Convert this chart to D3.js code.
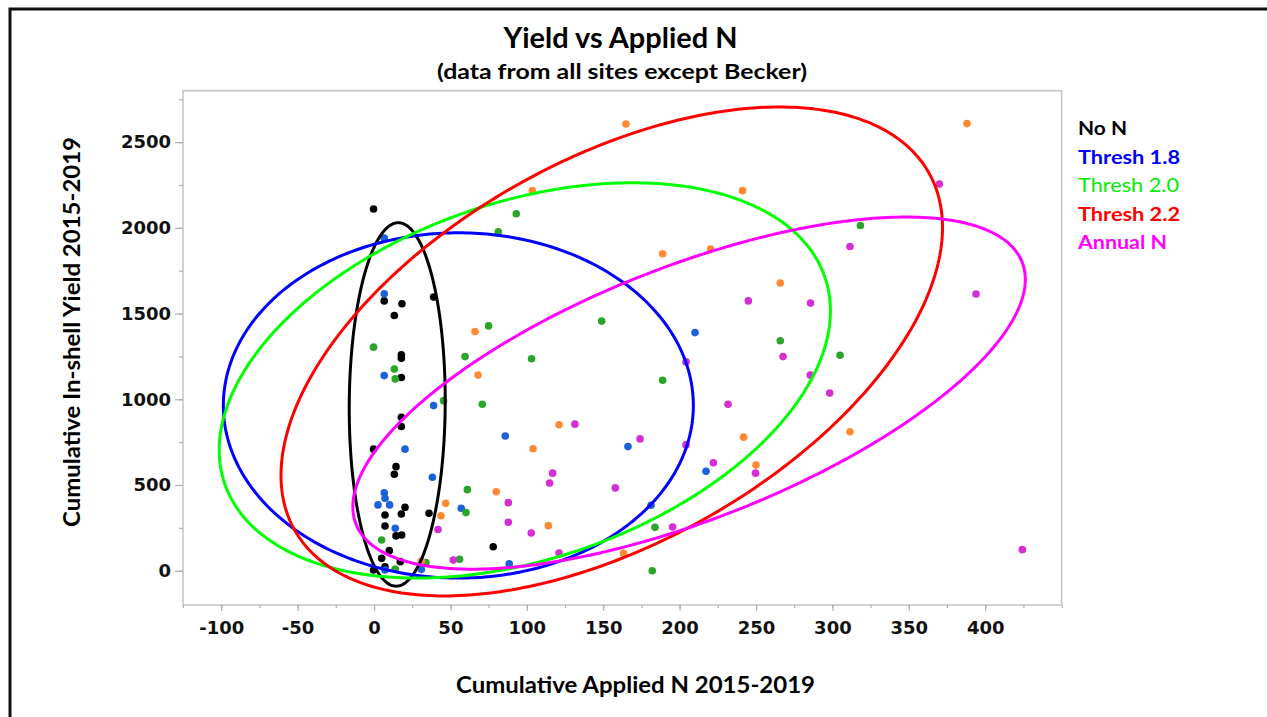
<!DOCTYPE html>
<html>
<head>
<meta charset="utf-8">
<script src="https://cdn.jsdelivr.net/npm/d3@7"></script>
<style>
  html, body { margin: 0; padding: 0; background: #fff; }
  svg { display: block; }
</style>
</head>
<body>
<svg id="chart" width="1267" height="717"></svg>
<script>
// ---------------- DATA ----------------
const categories = ["No N", "Thresh 1.8", "Thresh 2.0", "Thresh 2.2", "Annual N"];

const xTicks = [-100, -50, 0, 50, 100, 150, 200, 250, 300, 350, 400];
const yTicks = [0, 500, 1000, 1500, 2000, 2500];

// [applied N, yield]
const noN = [
  [-0.3, 2110], [6.7, 1574], [18.3, 1557], [13.3, 1489], [39, 1596],
  [17.9, 1259], [17.9, 1240], [17.9, 1127], [17.9, 895], [17.9, 841],
  [-0.3, 709], [14.4, 607], [13.3, 563], [20.3, 370], [7.2, 325],
  [17.9, 331], [36, 335], [7.2, 261], [14.4, 203], [18.1, 208],
  [10, 117], [5, 72], [17.2, 53], [-0.3, 4], [7.2, 23], [78, 140]
];
const thresh18 = [
  [6.7, 1940], [6.7, 1615], [6.7, 1138], [39, 963], [20.3, 709],
  [38.2, 545], [6.7, 455], [7.2, 423], [2.6, 384], [10.2, 384],
  [57.1, 364], [13.9, 248], [7.2, 4], [31, 8], [85.9, 786],
  [166.2, 724], [217.3, 580], [181.3, 382], [88.5, 41], [210.1, 1389]
];
const thresh20 = [
  [-0.3, 1304], [13.3, 1176], [13.9, 1119], [45.5, 992], [5, 179],
  [13.9, 10], [34, 47], [75, 1428], [149, 1456], [59.6, 1249],
  [103.1, 1236], [188.9, 1111], [70.9, 971], [61.1, 473], [60.2, 339],
  [183.9, 253], [182.1, 0], [56, 67], [318.3, 2014], [265.9, 1341],
  [305, 1257], [81.3, 1977], [93.1, 2082]
];
const thresh22 = [
  [164.9, 2606], [388.1, 2608], [241.2, 2217], [188.9, 1849], [220.3, 1876],
  [265.9, 1678], [241.9, 779], [311.5, 811], [250, 617], [163.3, 102],
  [66.1, 1395], [68.1, 1141], [121.1, 851], [104.1, 711], [80, 461],
  [46.9, 393], [43.8, 321], [114.1, 263], [103.6, 2217], [31, 57]
];
const annualN = [
  [370, 2256], [311.5, 1891], [394, 1614], [245, 1574], [285.7, 1561],
  [267.7, 1249], [204.2, 1218], [285.5, 1141], [298.2, 1036], [231.7, 971],
  [174.1, 769], [204.2, 734], [222.1, 630], [249.7, 569], [157.9, 483],
  [195.4, 255], [424.3, 123], [131.5, 855], [116.9, 569], [114.9, 512],
  [87.9, 397], [87.9, 283], [102.9, 220], [121.1, 103], [51.9, 62], [41.9, 240]
];
const seriesValues = [noN, thresh18, thresh20, thresh22, annualN];

// Ellipses (data units): point(t) = center + axisA*cos t + axisB*sin t
const ellipseCenters = [[15.2, 970], [55.2, 964], [98.7, 1110], [155.6, 1279], [206.2, 1036]];
const ellipseAxisA   = [[31.4, 0], [153.8, 0], [187.2, 0], [186.6, 0], [168.1, 0]];
const ellipseAxisB   = [[0.7, 1060], [0, 1007], [70.4, 1153], [109.7, 1426], [142.0, 1027]];

// ---------------- STYLE ----------------
const pointColors   = ["#000000", "#1a62d9", "#2aa52a", "#ff8a33", "#d42ed4"];
const ellipseColors = ["#000000", "#0000ff", "#00ff00", "#ff0000", "#ff00ff"];
const legendColors  = ["#000000", "#0000ff", "#00ee00", "#ff0000", "#ff00ff"];
const legendWeights = ["bold", "bold", "normal", "bold", "bold"];

const svg = d3.select("#chart");
const plot = { left: 183, right: 1061.6, top: 90.7, bottom: 605 };

const x = d3.scaleLinear().domain([-125, 450]).range([plot.left, plot.right]);
const y = d3.scaleLinear().domain([-200, 2800]).range([plot.bottom, plot.top]);

// outer black frame
svg.append("rect")
  .attr("x", 10).attr("y", 9)
  .attr("width", 1300).attr("height", 760)
  .attr("fill", "none").attr("stroke", "#111").attr("stroke-width", 3);

// titles
const titleFont = "Lato, 'Open Sans', sans-serif";
svg.append("text")
  .attr("x", 620.5).attr("y", 48)
  .attr("text-anchor", "middle")
  .attr("font-family", titleFont).attr("font-weight", "bold")
  .attr("font-size", 28)
  .attr("textLength", 234).attr("lengthAdjust", "spacingAndGlyphs")
  .text("Yield vs Applied N");
svg.append("text")
  .attr("x", 622).attr("y", 79)
  .attr("text-anchor", "middle")
  .attr("font-family", titleFont).attr("font-weight", "bold")
  .attr("font-size", 21)
  .attr("textLength", 370).attr("lengthAdjust", "spacingAndGlyphs")
  .text("(data from all sites except Becker)");

// plot frame
svg.append("rect")
  .attr("x", plot.left).attr("y", plot.top)
  .attr("width", plot.right - plot.left).attr("height", plot.bottom - plot.top)
  .attr("fill", "none").attr("stroke", "#c4c4c4").attr("stroke-width", 1.5);

// x axis
const xMinor = d3.range(-125, 451, 25);
const xAxisMinor = d3.axisBottom(x).tickValues(xMinor).tickSize(3).tickFormat("");
const xAxisMajor = d3.axisBottom(x).tickValues(xTicks).tickSize(6).tickPadding(10)
  .tickFormat(d => d === 0 ? "0" : String(d));
const gxm = svg.append("g").attr("transform", `translate(0,${plot.bottom})`).call(xAxisMinor);
const gx = svg.append("g").attr("transform", `translate(0,${plot.bottom})`).call(xAxisMajor);
[gxm, gx].forEach(g => {
  g.select(".domain").remove();
  g.selectAll("line").attr("stroke", "#b0b0b0").attr("stroke-width", 1.2);
});
gx.selectAll("text")
  .attr("font-family", "'DejaVu Sans', Verdana, sans-serif")
  .attr("font-weight", "bold").attr("font-size", 18).attr("fill", "#111");

// y axis
const yMinor = d3.range(-250, 2801, 250).filter(v => v >= -200);
const yAxisMinor = d3.axisLeft(y).tickValues(yMinor).tickSize(4).tickFormat("");
const yAxisMajor = d3.axisLeft(y).tickValues(yTicks).tickSize(8).tickPadding(4)
  .tickFormat(d => String(d));
const gym = svg.append("g").attr("transform", `translate(${plot.left},0)`).call(yAxisMinor);
const gy = svg.append("g").attr("transform", `translate(${plot.left},0)`).call(yAxisMajor);
[gym, gy].forEach(g => {
  g.select(".domain").remove();
  g.selectAll("line").attr("stroke", "#b0b0b0").attr("stroke-width", 1.2);
});
gy.selectAll("text")
  .attr("font-family", "'DejaVu Sans', Verdana, sans-serif")
  .attr("font-weight", "bold").attr("font-size", 18).attr("fill", "#111");

// axis titles
svg.append("text")
  .attr("x", 635.5).attr("y", 693)
  .attr("text-anchor", "middle")
  .attr("font-family", titleFont).attr("font-weight", "bold")
  .attr("font-size", 22)
  .attr("textLength", 359).attr("lengthAdjust", "spacingAndGlyphs")
  .text("Cumulative Applied N 2015-2019");
svg.append("text")
  .attr("transform", "translate(80,332) rotate(-90)")
  .attr("text-anchor", "middle")
  .attr("font-family", titleFont).attr("font-weight", "bold")
  .attr("font-size", 22)
  .attr("textLength", 390).attr("lengthAdjust", "spacingAndGlyphs")
  .text("Cumulative In-shell Yield 2015-2019");

// points
const gp = svg.append("g");
seriesValues.forEach((vals, i) => {
  gp.selectAll(null).data(vals).enter().append("circle")
    .attr("cx", d => x(d[0])).attr("cy", d => y(d[1]))
    .attr("r", 3.8)
    .attr("fill", pointColors[i]);
});

// ellipses
const line = d3.line().x(d => x(d[0])).y(d => y(d[1])).curve(d3.curveLinearClosed);
const ge = svg.append("g");
ellipseCenters.forEach((c, i) => {
  const A = ellipseAxisA[i], B = ellipseAxisB[i];
  const pts = d3.range(0, 360, 1).map(deg => {
    const t = deg * Math.PI / 180;
    return [c[0] + A[0] * Math.cos(t) + B[0] * Math.sin(t),
            c[1] + A[1] * Math.cos(t) + B[1] * Math.sin(t)];
  });
  ge.append("path")
    .attr("d", line(pts))
    .attr("fill", "none")
    .attr("stroke", ellipseColors[i])
    .attr("stroke-width", 3);
});

// legend
const legendY = [135, 164, 192, 221, 249];
const legendW = [49, 102, 101, 102, 89];
categories.forEach((c, i) => {
  svg.append("text")
    .attr("x", 1078).attr("y", legendY[i])
    .attr("font-family", titleFont)
    .attr("font-weight", legendWeights[i])
    .attr("font-size", 19)
    .attr("fill", legendColors[i])
    .attr("textLength", legendW[i]).attr("lengthAdjust", "spacingAndGlyphs")
    .text(c);
});
</script>
</body>
</html>
